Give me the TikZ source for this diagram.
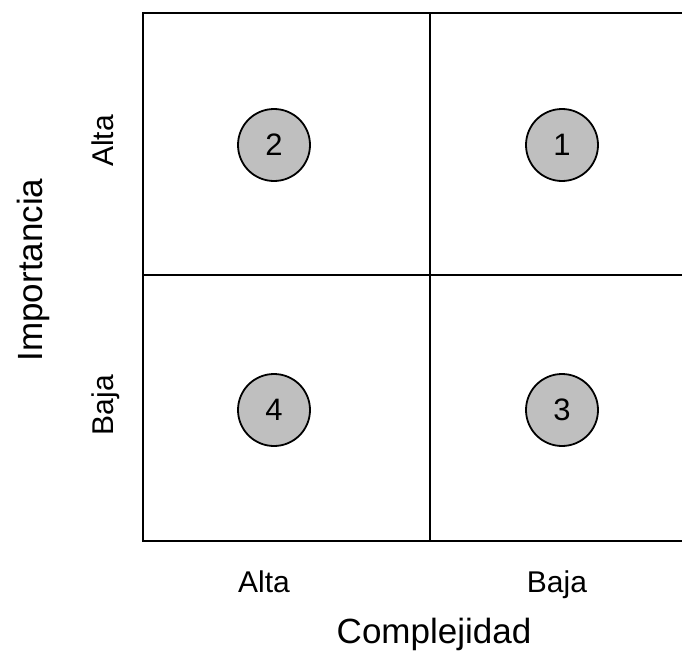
\documentclass[tikz,border=0pt]{standalone}
\usepackage{fontspec}
\setmainfont{Liberation Sans}
\begin{document}
\begin{tikzpicture}[x=1pt,y=-1pt,
  gridline/.style={line width=2.8pt,black},
  quad/.style={circle,draw=black,line width=1.8pt,fill=gray!50!white,minimum size=72pt,inner sep=0pt,font=\fontsize{31}{36}\selectfont},
  smalllab/.style={font=\fontsize{30}{36}\selectfont,inner sep=0pt},
  biglab/.style={font=\fontsize{35}{42}\selectfont,inner sep=0pt}]
\useasboundingbox (0,0) rectangle (682,650);
\begin{scope}
\clip (0,0) rectangle (682,650);
\coordinate (tl) at (143,13);
\coordinate (bl) at (143,541);
\coordinate (tr) at (720,13);
\coordinate (br) at (720,541);
\coordinate (tm) at (430,13);
\coordinate (bm) at (430,541);
\coordinate (ml) at (143,275);
\coordinate (mr) at (720,275);
\draw[gridline] (tr) -- (tl) -- (bl) -- (br);
\draw[gridline] (tm) -- (bm);
\draw[gridline] (ml) -- (mr);
\end{scope}
\node[quad] (q2) at (274,145) {2};
\node[quad] (q1) at (562,145) {1};
\node[quad] (q4) at (274,410) {4};
\node[quad] (q3) at (562,410) {3};
\node[smalllab,anchor=base] (xa) at (264,592) {Alta};
\node[smalllab,anchor=base] (xb) at (557,592) {Baja};
\node[biglab,anchor=base] (xl) at (434,643) {Complejidad};
\node[smalllab,anchor=base,rotate=90] (ya) at (113,141) {Alta};
\node[smalllab,anchor=base,rotate=90] (yb) at (113,405) {Baja};
\node[biglab,anchor=base,rotate=90] (yl) at (42,270) {Importancia};
\end{tikzpicture}
\end{document}
